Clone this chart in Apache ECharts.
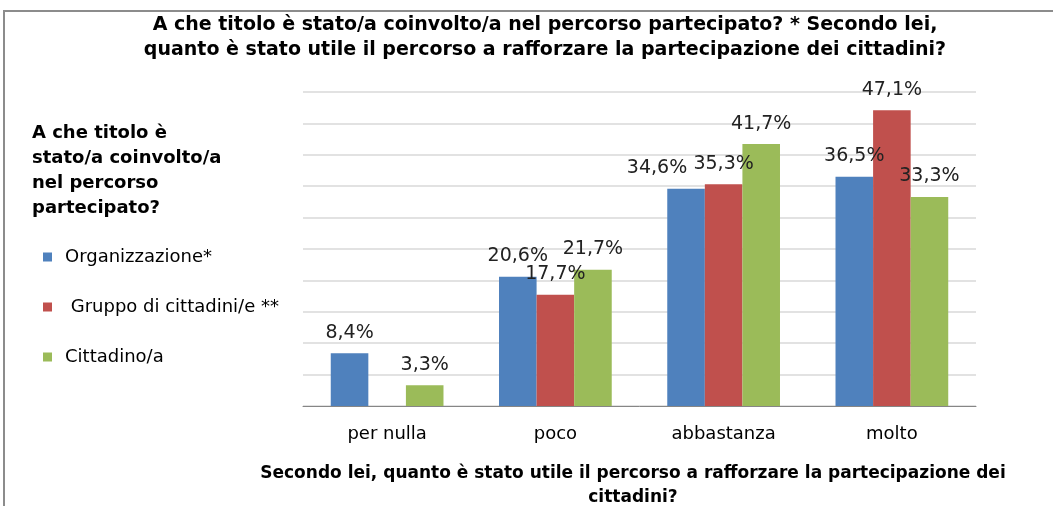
<!DOCTYPE html>
<html>
<head>
<meta charset="utf-8">
<script src="https://cdn.jsdelivr.net/npm/echarts@6/dist/echarts.min.js"></script>
<style>
  html, body { margin: 0; padding: 0; background: #fff; }
  #chart { width: 1053px; height: 506px; }
</style>
</head>
<body>
<div id="chart"></div>
<script>
const categories = ['per nulla', 'poco', 'abbastanza', 'molto']
const seriesNames = ['Organizzazione*', ' Gruppo di cittadini/e **', 'Cittadino/a']
const organizzazione = [8.4, 20.6, 34.6, 36.5]
const gruppo = [null, 17.7, 35.3, 47.1]
const cittadino = [3.3, 21.7, 41.7, 33.3]

const colors = ['#4F81BD', '#C0504D', '#9BBB59']
// Excel nudged one label to the left to avoid overlap
const labelShift = { 0: { 2: [-29, 0] } }

const fmt = p => p.value == null ? '' : p.value.toFixed(1).replace('.', ',') + '%'

const makeSeries = (name, values, idx) => ({
  name,
  type: 'bar',
  barGap: '0%',
  barCategoryGap: '33%',
  itemStyle: { color: colors[idx] },
  label: {
    show: true,
    position: 'top',
    distance: 11,
    formatter: fmt,
    fontFamily: 'DejaVu Sans',
    fontSize: 19,
    color: '#222'
  },
  data: values.map((v, i) => {
    const shift = labelShift[idx] && labelShift[idx][i]
    return shift ? { value: v, label: { offset: shift } } : v
  })
})

const chart = echarts.init(document.getElementById('chart'))
const option = {
  animation: false,
  title: [
    {
      text: 'A che titolo è stato/a coinvolto/a nel percorso partecipato? * Secondo lei,\nquanto è stato utile il percorso a rafforzare la partecipazione dei cittadini?',
      left: 540,
      top: 8,
      textAlign: 'center',
      textStyle: {
        fontFamily: 'DejaVu Sans',
        fontWeight: 'bold',
        fontSize: 19,
        lineHeight: 25,
        color: '#000'
      }
    },
    {
      text: 'A che titolo è\nstato/a coinvolto/a\nnel percorso\npartecipato?',
      left: 27,
      top: 116,
      textStyle: {
        fontFamily: 'DejaVu Sans',
        fontWeight: 'bold',
        fontSize: 18,
        lineHeight: 25,
        color: '#000'
      }
    },
    {
      text: 'Secondo lei, quanto è stato utile il percorso a rafforzare la partecipazione dei\ncittadini?',
      left: 628,
      top: 457,
      textAlign: 'center',
      textStyle: {
        fontFamily: 'DejaVu Sans',
        fontWeight: 'bold',
        fontSize: 17,
        lineHeight: 24,
        color: '#000'
      }
    }
  ],
  legend: {
    orient: 'vertical',
    left: 38,
    top: 242,
    icon: 'rect',
    itemWidth: 9,
    itemHeight: 9,
    itemGap: 30,
    textStyle: {
      fontFamily: 'DejaVu Sans',
      fontSize: 18,
      lineHeight: 20,
      color: '#000',
      padding: [0, 0, 0, 8]
    },
    data: seriesNames
  },
  graphic: [
    {
      type: 'rect',
      shape: { x: 4, y: 11, width: 1080, height: 520 },
      style: { fill: 'none', stroke: '#8c8c8c', lineWidth: 2 },
      silent: true
    }
  ],
  grid: {
    left: 303,
    right: 77,
    top: 92,
    bottom: 100
  },
  xAxis: {
    type: 'category',
    data: categories,
    axisLine: { lineStyle: { color: '#868686' } },
    axisTick: { length: 6, lineStyle: { color: '#868686' } },
    axisLabel: {
      margin: 19,
      fontFamily: 'DejaVu Sans',
      fontSize: 18,
      color: '#000'
    }
  },
  yAxis: {
    type: 'value',
    min: 0,
    max: 50,
    interval: 5,
    axisLine: { show: false },
    axisTick: { show: false },
    axisLabel: { show: false },
    splitLine: { lineStyle: { color: '#d9d9d9', width: 1.5 } }
  },
  series: [
    makeSeries(seriesNames[0], organizzazione, 0),
    makeSeries(seriesNames[1], gruppo, 1),
    makeSeries(seriesNames[2], cittadino, 2)
  ]
}

chart.setOption(option)
window.addEventListener('resize', () => {
  chart.resize()
})
</script>
</body>
</html>
